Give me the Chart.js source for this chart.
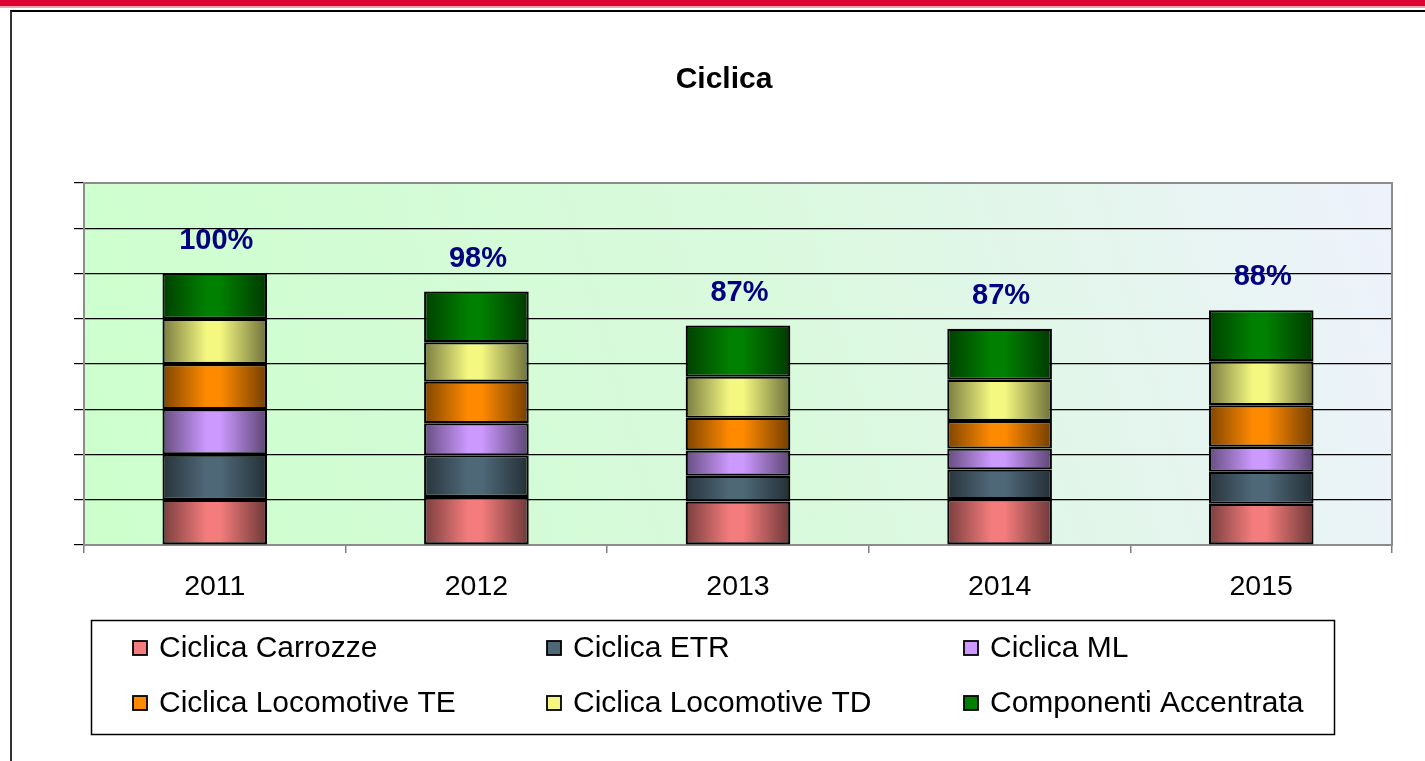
<!DOCTYPE html>
<html>
<head>
<meta charset="utf-8">
<script src="https://cdn.jsdelivr.net/npm/chart.js@4.4.1/dist/chart.umd.min.js"></script>
<style>
  body { margin: 0; background: #fff; overflow: hidden; }
  #topbar { position: absolute; left: 0; top: 0; width: 1425px; height: 6px; background: #dc0030; }
  #topbar2 { position: absolute; left: 0; top: 6px; width: 1425px; height: 2px; background: #f2a0b2; }
  #frame { position: absolute; left: 10px; top: 10px; width: 1420px; height: 760px;
           border-left: 2px solid #333; border-top: 2px solid #000; }
  #chart { position: absolute; left: 0; top: 0; }
</style>
</head>
<body>
<div id="topbar"></div>
<div id="topbar2"></div>
<div id="frame"></div>
<canvas id="chart" width="1425" height="761"></canvas>
<script>
const years = ["2011", "2012", "2013", "2014", "2015"];
const seriesNames = [
  "Ciclica Carrozze", "Ciclica ETR", "Ciclica ML",
  "Ciclica Locomotive TE", "Ciclica Locomotive TD", "Componenti Accentrata"
];
const carrozze   = [1.00, 1.06, 0.96, 1.01, 0.91];
const etr        = [1.00, 0.92, 0.57, 0.66, 0.71];
const ml         = [1.00, 0.71, 0.56, 0.46, 0.55];
const locoTE     = [1.00, 0.92, 0.72, 0.61, 0.92];
const locoTD     = [1.00, 0.87, 0.91, 0.91, 0.97];
const componenti = [1.00, 1.12, 1.13, 1.13, 1.13];
const totalLabels = ["100%", "98%", "87%", "87%", "88%"];
const yTicks = [0, 1, 2, 3, 4, 5, 6, 7, 8];

const colors = ["#f47c7c", "#4f6878", "#cc99ff", "#ff8a00", "#f4f880", "#008000"];
const FONT = "Arial, 'Liberation Sans', sans-serif";
const BAR_PCT = 0.4;

function shade(hex, f) {
  const n = parseInt(hex.slice(1), 16);
  const r = Math.round(((n >> 16) & 255) * f);
  const g = Math.round(((n >> 8) & 255) * f);
  const b = Math.round((n & 255) * f);
  return "rgb(" + r + "," + g + "," + b + ")";
}

// cylinder-like shading across each bar
function barGradient(ctx, color) {
  const chart = ctx.chart;
  const x = chart.scales.x;
  if (!x || ctx.dataIndex === undefined) return color;
  const cx = x.getPixelForValue(ctx.dataIndex);
  const w = (x.width / years.length) * BAR_PCT;
  if (!isFinite(cx) || !isFinite(w) || w <= 0) return color;
  const g = chart.ctx.createLinearGradient(cx - w / 2, 0, cx + w / 2, 0);
  g.addColorStop(0, shade(color, 0.5));
  g.addColorStop(0.42, color);
  g.addColorStop(0.55, color);
  g.addColorStop(1, shade(color, 0.45));
  return g;
}

const seriesValues = [carrozze, etr, ml, locoTE, locoTD, componenti];

const plotFrame = {
  id: "plotFrame",
  beforeDraw(chart) {
    const a = chart.chartArea, c = chart.ctx;
    const g = c.createLinearGradient(a.left, a.bottom, a.right, a.top);
    g.addColorStop(0, "#ccffcc");
    g.addColorStop(0.55, "#daf9de");
    g.addColorStop(1, "#eef2fc");
    c.save();
    c.fillStyle = g;
    c.fillRect(a.left, a.top, a.right - a.left, a.bottom - a.top);
    c.restore();
  },
  beforeDatasetsDraw(chart) {
    const a = chart.chartArea, c = chart.ctx;
    c.save();
    c.strokeStyle = "#8c8c8c";
    c.lineWidth = 2;
    c.strokeRect(a.left, a.top, a.right - a.left, a.bottom - a.top);
    c.restore();
  }
};

const totalsPlugin = {
  id: "totals",
  afterDatasetsDraw(chart) {
    const c = chart.ctx;
    const last = chart.getDatasetMeta(chart.data.datasets.length - 1);
    c.save();
    c.font = "bold 29px " + FONT;
    c.fillStyle = "#000080";
    c.textAlign = "center";
    c.textBaseline = "middle";
    last.data.forEach((bar, i) => {
      c.fillText(totalLabels[i], bar.x + 1.5, bar.y - 33);
    });
    c.restore();
  }
};

const boxLegend = {
  id: "boxLegend",
  afterDraw(chart) {
    const c = chart.ctx;
    c.save();
    c.strokeStyle = "#000";
    c.lineWidth = 1.5;
    c.strokeRect(91.5, 620.5, 1243, 114);
    const colX = [133, 547, 964];
    const rowY = [648, 703];
    c.font = "30px " + FONT;
    c.textBaseline = "middle";
    chart.data.datasets.forEach((ds, i) => {
      const x = colX[i % 3], y = rowY[Math.floor(i / 3)];
      c.fillStyle = colors[i];
      c.fillRect(x, y - 7, 14, 14);
      c.strokeStyle = "#000";
      c.lineWidth = 1.8;
      c.strokeRect(x, y - 7, 14, 14);
      c.fillStyle = "#000";
      c.fillText(ds.label, x + 26, y + 1);
    });
    c.restore();
  }
};

new Chart(document.getElementById("chart"), {
  type: "bar",
  data: {
    labels: years,
    datasets: seriesValues.map((vals, i) => ({
      label: seriesNames[i],
      data: vals,
      backgroundColor: (ctx) => barGradient(ctx, colors[i]),
      borderColor: "#000",
      borderWidth: 2.2,
      borderSkipped: false,
      barPercentage: BAR_PCT,
      categoryPercentage: 1.0
    }))
  },
  options: {
    responsive: false,
    animation: false,
    layout: { padding: { left: 56, right: 33, top: 0, bottom: 0 } },
    plugins: {
      legend: { display: false },
      tooltip: { enabled: false },
      title: {
        display: true,
        text: "Ciclica",
        color: "#000",
        font: { family: FONT, size: 30, weight: "bold", lineHeight: 1.2 },
        padding: { top: 62, bottom: 85 }
      }
    },
    scales: {
      x: {
        stacked: true,
        border: { display: false },
        grid: {
          offset: true,
          drawOnChartArea: false,
          drawTicks: true,
          tickLength: 8,
          color: "#808080",
          lineWidth: 1.5
        },
        ticks: { color: "#000", font: { family: FONT, size: 28.5 }, padding: 17 },
        afterFit(scale) { scale.height = 216; }
      },
      y: {
        stacked: true,
        min: yTicks[0],
        max: yTicks[yTicks.length - 1],
        border: { display: false },
        grid: {
          color: "#000",
          tickColor: "#000",
          lineWidth: 1.2,
          drawTicks: true,
          tickLength: 10
        },
        ticks: { display: false, stepSize: 1 },
        afterFit(scale) { scale.width = 28; }
      }
    }
  },
  plugins: [plotFrame, totalsPlugin, boxLegend]
});
</script>
</body>
</html>
